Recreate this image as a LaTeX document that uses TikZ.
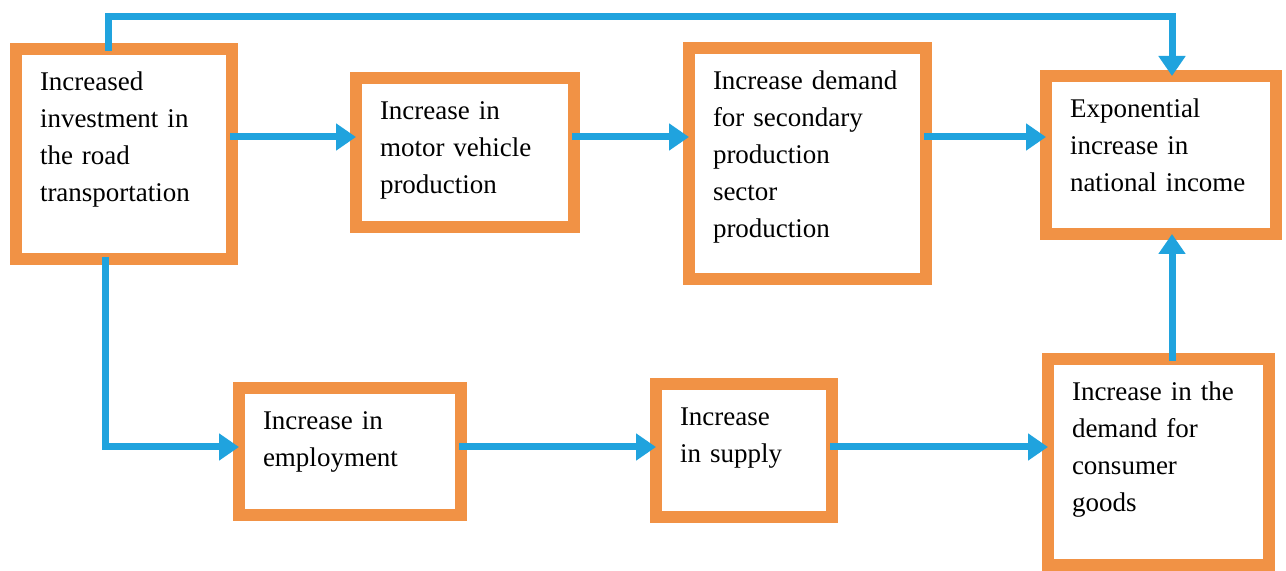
\documentclass[tikz,border=0pt]{standalone}
\usepackage{fontspec}
\setmainfont{Liberation Serif}
\usetikzlibrary{arrows.meta}
\definecolor{boxorange}{RGB}{241,146,69}
\definecolor{flowblue}{RGB}{32,163,222}

\begin{document}
\begin{tikzpicture}[x=0.5pt, y=-0.5pt,
    blk/.style 2 args={draw=boxorange, line width=6pt, fill=white, align=left,
        text width=#1, text height=15pt, text depth=#2,
        inner xsep=12pt, inner ysep=6pt,
        font=\fontsize{13.5}{18.5}\selectfont},
    flow/.style={draw=flowblue, line width=3.5pt,
        -{Triangle[length=10pt,width=13pt]}, shorten >=-3pt, shorten <=-4pt}]

\useasboundingbox (0,0) rectangle (1286,571);

\node[blk={84pt}{78pt}] (inv) at (124,154)
    {Increased\\ investment in\\ the road\\ transportation};
\node[blk={85pt}{47.5pt}] (mvp) at (465,152.5)
    {Increase in\\ motor vehicle\\ production};
\node[blk={94.5pt}{88.5pt}] (sec) at (807.5,163.5)
    {Increase demand\\ for secondary\\ production\\ sector\\ production};
\node[blk={91pt}{52pt}] (nat) at (1161,155)
    {Exponential\\ increase in\\ national income};
\node[blk={87pt}{36.5pt}] (emp) at (350,451.5)
    {Increase in\\ employment};
\node[blk={64pt}{39.5pt}] (sup) at (744,450.5)
    {Increase\\ in supply};
\node[blk={86.5pt}{76pt}] (con) at (1158.5,462)
    {Increase in the\\ demand for\\ consumer\\ goods};

\coordinate (topL) at (108,17);
\coordinate (topR) at (1172,17);
\coordinate (botL) at (105,447);
\coordinate (rowA) at (0,137);
\coordinate (rowB) at (0,447);

\draw[flow] (inv.north -| topL) -- (topL) -- (topR) -- (nat.north -| topR);
\draw[flow] (inv.east |- rowA) -- (mvp.west |- rowA);
\draw[flow] (mvp.east |- rowA) -- (sec.west |- rowA);
\draw[flow] (sec.east |- rowA) -- (nat.west |- rowA);
\draw[flow] (inv.south -| botL) -- (botL) -- (emp.west |- rowB);
\draw[flow] (emp.east |- rowB) -- (sup.west |- rowB);
\draw[flow] (sup.east |- rowB) -- (con.west |- rowB);
\draw[flow] (con.north -| topR) -- (nat.south -| topR);
\end{tikzpicture}
\end{document}
